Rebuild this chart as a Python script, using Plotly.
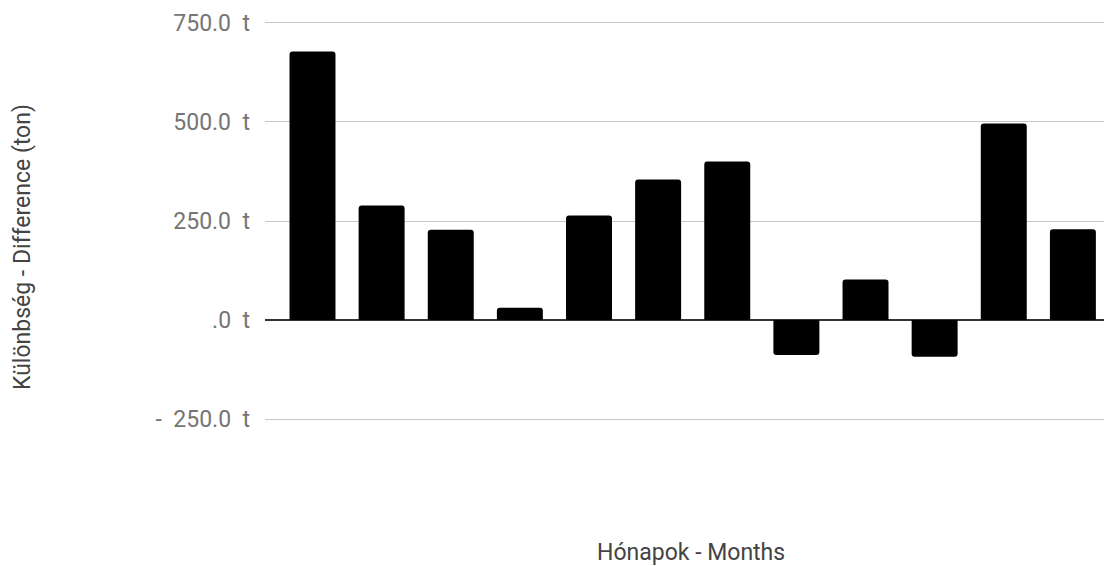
import plotly.graph_objects as go

months = ["Jan", "Feb", "Mar", "Apr", "May", "Jun", "Jul", "Aug", "Sep", "Oct", "Nov", "Dec"]
difference = [678, 289, 228, 31, 264, 355, 400, -88, 102, -93, 496, 229]

tick_vals = [-250, 0, 250, 500, 750]
tick_text = ["-\u00a0\u00a0250.0\u00a0\u00a0t", ".0\u00a0\u00a0t", "250.0\u00a0\u00a0t", "500.0\u00a0\u00a0t", "750.0\u00a0\u00a0t"]

W, H = 1104, 566
L, R, T, B = 265, 0, 18, 142
pw, ph = W - L - R, H - T - B

fig = go.Figure(go.Bar(
    x=list(range(len(months))),
    y=difference,
    marker=dict(color="#000000", line=dict(width=0)),
    hovertext=months,
))

fig.update_layout(
    width=W, height=H,
    margin=dict(l=L, r=R, t=T, b=B, pad=0),
    paper_bgcolor="white", plot_bgcolor="white",
    bargap=0.335,
    barcornerradius=3,
    showlegend=False,
    font=dict(family="Roboto", size=23, color="#757575"),
    xaxis=dict(
        range=[-0.687, 11.45],
        showticklabels=False, showgrid=False, zeroline=False,
        showline=False, ticks="",
    ),
    yaxis=dict(
        range=[-262.5, 762.5],
        tickvals=tick_vals, ticktext=tick_text,
        showgrid=True, gridcolor="#c8c8c8", gridwidth=1.2,
        zeroline=True, zerolinecolor="#333333", zerolinewidth=1.6,
        showline=False, ticks="",
        tickfont=dict(family="Roboto", size=23, color="#757575"),
        ticklabelstandoff=14,
    ),
    annotations=[
        dict(text="Hónapok - Months", xref="paper", yref="paper",
             x=(691 - L) / pw, y=-(552 - (T + ph)) / ph,
             xanchor="center", yanchor="middle", showarrow=False,
             font=dict(family="Roboto", size=23, color="#444444")),
        dict(text="Különbség - Difference (ton)", xref="paper", yref="paper",
             x=(22 - L) / pw, y=((T + ph) - 247) / ph, textangle=-90,
             xanchor="center", yanchor="middle", showarrow=False,
             font=dict(family="Roboto", size=23, color="#444444")),
    ],
)

fig.write_html(
    "out.html",
    config={"displayModeBar": False},
    post_script="document.body.style.margin='0';document.body.style.overflow='hidden';",
)
